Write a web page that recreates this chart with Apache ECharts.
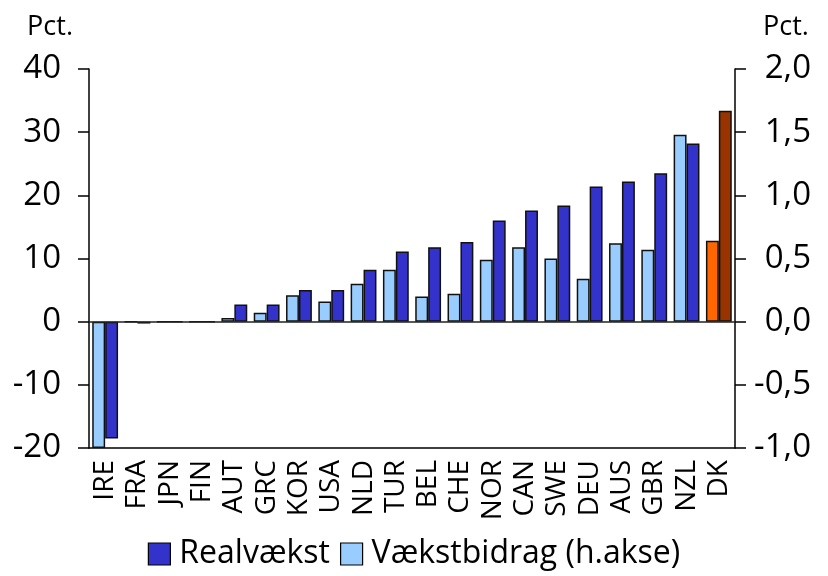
<!DOCTYPE html>
<html>
<head>
<meta charset="utf-8">
<script src="https://cdn.jsdelivr.net/npm/echarts@6/dist/echarts.min.js"></script>
<style>
  html, body { margin: 0; padding: 0; background: #fff; }
  #chart { width: 828px; height: 576px; }
</style>
</head>
<body>
<div id="chart"></div>
<script>
// lande, sorteret efter realvækst
const countries = ['IRE', 'FRA', 'JPN', 'FIN', 'AUT', 'GRC', 'KOR', 'USA', 'NLD', 'TUR',
  'BEL', 'CHE', 'NOR', 'CAN', 'SWE', 'DEU', 'AUS', 'GBR', 'NZL', 'DK'];

// realvækst, pct. (venstre akse)
const realvaekst = [-18.5, -0.3, 0, 0, 2.7, 2.7, 5.0, 5.0, 8.2, 11.1,
  11.8, 12.6, 16.0, 17.6, 18.4, 21.4, 22.2, 23.5, 28.2, 33.4];

// vækstbidrag, pct. (højre akse)
const vaekstbidrag = [-1.0, 0, 0, 0, 0.03, 0.07, 0.21, 0.16, 0.30, 0.41,
  0.20, 0.22, 0.49, 0.59, 0.50, 0.34, 0.62, 0.57, 1.48, 0.64];

const leftTicks = { min: -20, max: 40, interval: 10 };
const rightTicks = { min: -1, max: 2, interval: 0.5 };

const FONT = '"Open Sans", "Noto Sans", sans-serif';
const LIGHT = '#99CCFF', DARK = '#3333CC';
const DK_LIGHT = '#FF6600', DK_DARK = '#993300';

const chart = echarts.init(document.getElementById('chart'));

const colored = (vals, normal, dk) => vals.map((v, i) => ({
  value: v,
  itemStyle: { color: countries[i] === 'DK' ? dk : normal }
}));

const option = {
  animation: false,
  textStyle: { fontFamily: FONT, color: '#000' },
  grid: { left: 89, right: 93, top: 69, bottom: 128 },
  legend: {
    data: ['Realvækst', 'Vækstbidrag (h.akse)'],
    bottom: 1,
    left: 'center',
    icon: 'rect',
    itemWidth: 22,
    itemHeight: 22,
    itemGap: 10,
    textStyle: { fontSize: 32, fontFamily: FONT, color: '#000', padding: [0, 0, 0, 4] },
    itemStyle: { borderColor: '#000', borderWidth: 1.2 }
  },
  xAxis: {
    type: 'category',
    data: countries,
    axisLine: { onZero: false, lineStyle: { color: '#000', width: 1.5 } },
    axisTick: { show: false },
    axisLabel: { rotate: 90, fontSize: 28, color: '#000', margin: 12, interval: 0 }
  },
  yAxis: [
    {
      type: 'value',
      ...leftTicks,
      position: 'left',
      name: 'Pct.',
      nameLocation: 'end',
      nameGap: 28,
      nameTextStyle: { fontSize: 27, color: '#000', align: 'right', padding: [0, 16, 0, 0] },
      axisLine: { show: true, lineStyle: { color: '#000', width: 1.5 } },
      axisTick: { show: true, inside: false, length: 11, lineStyle: { color: '#000', width: 1.5 } },
      axisLabel: { fontSize: 33, color: '#000', margin: 28 },
      splitLine: { show: false }
    },
    {
      type: 'value',
      ...rightTicks,
      position: 'right',
      name: 'Pct.',
      nameLocation: 'end',
      nameGap: 28,
      nameTextStyle: { fontSize: 27, color: '#000', align: 'left', padding: [0, 0, 0, 28] },
      axisLine: { show: true, lineStyle: { color: '#000', width: 1.5 } },
      axisTick: { show: true, inside: false, length: 11, lineStyle: { color: '#000', width: 1.5 } },
      axisLabel: {
        fontSize: 33, color: '#000', margin: 76, align: 'right',
        formatter: v => v.toFixed(1).replace('.', ',')
      },
      splitLine: { show: false }
    }
  ],
  series: [
    {
      name: 'Vækstbidrag (h.akse)',
      type: 'bar',
      yAxisIndex: 1,
      data: colored(vaekstbidrag, LIGHT, DK_LIGHT),
      itemStyle: { color: LIGHT, borderColor: '#111', borderWidth: 1.5 },
      barGap: '0%',
      barCategoryGap: '20%'
    },
    {
      name: 'Realvækst',
      type: 'bar',
      yAxisIndex: 0,
      data: colored(realvaekst, DARK, DK_DARK),
      itemStyle: { color: DARK, borderColor: '#111', borderWidth: 1.5 },
      barGap: '0%',
      barCategoryGap: '20%',
      markLine: {
        silent: true,
        symbol: 'none',
        label: { show: false },
        lineStyle: { color: '#222', width: 1.5, type: 'solid' },
        data: [{ yAxis: 0 }]
      }
    }
  ]
};

chart.setOption(option);
window.addEventListener('resize', () => chart.resize());
</script>
</body>
</html>
